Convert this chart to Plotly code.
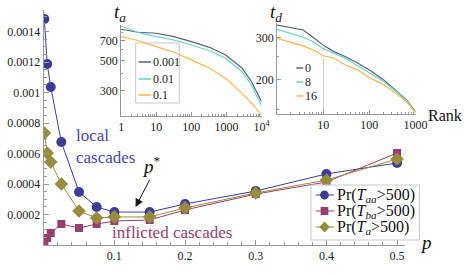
import plotly.graph_objects as go

W, H = 474, 274
def X(px): return px / W
def Y(py): return 1 - py / H

# ---- main chart data ----
p = [0.001, 0.005, 0.01, 0.025, 0.05, 0.075, 0.1, 0.15, 0.2, 0.3, 0.4, 0.5]
pr_taa = [0.001482, 0.001187, 0.001036, 0.000675, 0.000348, 0.000249, 0.000216, 0.000216, 0.000269, 0.000354, 0.000466, 0.000538]
pr_tba = [0.0000131, 0.0000459, 0.0000787, 0.000138, 0.000111, 0.000138, 0.000157, 0.000164, 0.000230, 0.000334, 0.000413, 0.000603]
pr_ta = [0.000734, 0.000603, 0.000544, 0.000400, 0.000223, 0.000177, 0.000184, 0.000184, 0.000243, 0.000341, 0.000426, 0.000564]
series_names = ["Pr(<i>T</i><sub><i>aa</i></sub>&gt;500)",
                "Pr(<i>T</i><sub><i>ba</i></sub>&gt;500)",
                "Pr(<i>T</i><sub><i>a</i></sub>&gt;500)"]
main_xticks = [0.1, 0.2, 0.3, 0.4, 0.5]
main_yticks = [0.0002, 0.0004, 0.0006, 0.0008, 0.001, 0.0012, 0.0014]
main_yticktext = ["0.0002", "0.0004", "0.0006", "0.0008", "0.001", "0.0012", "0.0014"]

# ---- inset t_a data ----
rank_a = [1, 3, 10, 32, 100, 330, 950, 2800, 5200, 10000]
ta_0001 = [845, 804, 790, 746, 686, 624, 549, 439, 350, 250]
ta_001 = [893, 800, 746, 706, 649, 589, 519, 414, 331, 233]
ta_01 = [746, 700, 631, 574, 505, 439, 371, 288, 244, 200]
inset_a_labels = ["0.001", "0.01", "0.1"]

# ---- inset t_d data ----
rank_d = [1, 3.7, 6, 10.5, 17, 30, 57, 108, 205, 390, 640, 1000]
td_0 = [340, 324, 302, 278, 263, 251, 235, 218, 200, 179, 165, 147]
td_8 = [326, 302, 290, 269, 259, 247, 229, 213, 197, 178, 164, 146]
td_16 = [299, 278, 267, 252, 247, 231, 220, 203, 191, 175, 162, 145]
inset_d_labels = ["0", "8", "16"]

BLUE = "rgb(61,61,153)"
MAG = "rgb(153,61,113)"
OLIVE = "rgb(153,139,61)"
GRAY = "#5d6274"
CYAN = "#66d4cc"
ORANGE = "#ffb44e"
AX = "#999999"
SERIF = "Liberation Serif"

fig = go.Figure()
main_specs = [(pr_taa, BLUE, "circle", 10), (pr_tba, MAG, "square", 8), (pr_ta, OLIVE, "diamond", 10.5)]
for (ys, c, sym, sz), nm in zip(main_specs, series_names):
    fig.add_trace(go.Scatter(x=p, y=ys, mode="lines+markers", name=nm,
                             line=dict(color=c, width=1),
                             marker=dict(symbol=sym, size=sz, color=c), showlegend=False))

for ys, c in zip([ta_0001, ta_001, ta_01], [GRAY, CYAN, ORANGE]):
    fig.add_trace(go.Scatter(x=rank_a, y=ys, mode="lines", line=dict(color=c, width=1.2),
                             xaxis="x2", yaxis="y2", showlegend=False))
for ys, c in zip([td_0, td_8, td_16], [GRAY, CYAN, ORANGE]):
    fig.add_trace(go.Scatter(x=rank_d, y=ys, mode="lines", line=dict(color=c, width=1.2),
                             xaxis="x3", yaxis="y3", showlegend=False))

tickfont = dict(family=SERIF, size=12, color="#222")
common = dict(showline=True, linecolor=AX, linewidth=1, ticks="inside", tickcolor=AX,
              showgrid=False, zeroline=False, tickfont=tickfont)

fig.update_layout(
    width=W, height=H, margin=dict(l=0, r=0, t=0, b=0),
    paper_bgcolor="white", plot_bgcolor="rgba(0,0,0,0)", showlegend=False,
    xaxis=dict(domain=[X(42), X(415)], range=[0, 0.511], tickvals=main_xticks,
               ticklen=5, anchor="y",
               minor=dict(ticks="inside", dtick=0.02, tick0=0, ticklen=3, tickcolor=AX), **common),
    yaxis=dict(domain=[Y(245), Y(10)], range=[0, 0.001541], tickvals=main_yticks,
               ticktext=main_yticktext, ticklen=5, anchor="x",
               minor=dict(ticks="inside", dtick=0.00005, tick0=0, ticklen=3, tickcolor=AX), **common),
    xaxis2=dict(domain=[X(122), X(267)], type="log", range=[0, 4], anchor="y2",
                tickvals=[1, 10, 100, 1000, 10000], ticktext=["1", "10", "100", "1000", "10<sup>4</sup>"],
                ticklen=4, minor=dict(ticks="inside", ticklen=2, tickcolor=AX,
                                      tickvals=[k * 10 ** e for e in range(4) for k in range(2, 10)]),
                **common),
    yaxis2=dict(domain=[Y(116), Y(25)], type="log", range=[2.294, 2.958], anchor="x2",
                tickvals=[300, 500, 700], ticklen=4,
                minor=dict(ticks="inside", ticklen=2, tickcolor=AX, tickvals=[200, 400, 600, 800, 900]),
                **common),
    xaxis3=dict(domain=[X(283), X(426)], type="log", range=[0, 3], anchor="y3",
                tickvals=[10, 100, 1000], ticklen=4,
                minor=dict(ticks="inside", ticklen=2, tickcolor=AX,
                           tickvals=[k * 10 ** e for e in range(3) for k in range(2, 10)]),
                **common),
    yaxis3=dict(domain=[Y(114), Y(23)], type="log", range=[2.158, 2.540], anchor="x3",
                tickvals=[200, 300], ticklen=4,
                minor=dict(ticks="inside", ticklen=2, tickcolor=AX, tickvals=[150, 250]),
                **common),
)

ann = []
def pa(px, py, text, size, color="#111", xanchor="center", **kw):
    ann.append(dict(x=X(px), y=Y(py), xref="paper", yref="paper", text=text, showarrow=False,
                    xanchor=xanchor, yanchor="middle", font=dict(family=SERIF, size=size, color=color), **kw))

# axis labels
pa(437, 242, "<i>p</i>", 19)
pa(121, 13, "<i>t<sub>a</sub></i>", 19)
pa(282, 13, "<i>t<sub>d</sub></i>", 19)
pa(456, 115, "Rank", 16)
# text labels in main plot
ann.append(dict(x=0.0425, y=0.000646, xref="x", yref="y", text="local<br>cascades", showarrow=False,
                xanchor="left", yanchor="middle", align="left",
                font=dict(family=SERIF, size=17, color="rgb(70,70,175)")))
ann.append(dict(x=0.181, y=0.0000852, xref="x", yref="y", text="inflicted cascades", showarrow=False,
                xanchor="center", yanchor="middle", font=dict(family=SERIF, size=17, color=MAG)))
ann.append(dict(x=0.152, y=0.000525, xref="x", yref="y", text="<i>p</i><sup>*</sup>", showarrow=False,
                xanchor="center", yanchor="middle", font=dict(family=SERIF, size=19, color="#111")))
ann.append(dict(x=0.130, y=0.000249, xref="x", yref="y", text="", showarrow=True, ax=15, ay=-29,
                arrowhead=2, arrowsize=1.6, arrowwidth=1, arrowcolor="#111"))

shapes = []
def line(x0, y0, x1, y1, color, width=1.5):
    shapes.append(dict(type="line", xref="paper", yref="paper", x0=X(x0), x1=X(x1), y0=Y(y0), y1=Y(y1),
                       line=dict(color=color, width=width)))

# main legend (drawn by hand to match the compact box)
shapes.append(dict(type="rect", xref="paper", yref="paper", x0=X(318), x1=X(430), y0=Y(240), y1=Y(185),
                   line=dict(color="#c8c8c8", width=1), fillcolor="white"))
for (ys, c, sym, sz), nm, py in zip(main_specs, series_names, [195, 211, 227]):
    line(323, py, 342, py, c, 1)
    cx = 332
    if sym == "circle":
        shapes.append(dict(type="circle", xref="paper", yref="paper", x0=X(cx - 4.5), x1=X(cx + 4.5),
                           y0=Y(py + 4.5), y1=Y(py - 4.5), fillcolor=c, line=dict(width=0)))
    elif sym == "square":
        shapes.append(dict(type="rect", xref="paper", yref="paper", x0=X(cx - 4), x1=X(cx + 4),
                           y0=Y(py + 4), y1=Y(py - 4), fillcolor=c, line=dict(width=0)))
    else:
        d = 5.5
        path = "M {} {} L {} {} L {} {} L {} {} Z".format(X(cx - d), Y(py), X(cx), Y(py - d),
                                                          X(cx + d), Y(py), X(cx), Y(py + d))
        shapes.append(dict(type="path", xref="paper", yref="paper", path=path, fillcolor=c,
                           line=dict(width=0)))
    pa(343, py, nm, 16, xanchor="left")

# inset legends
shapes.append(dict(type="rect", xref="paper", yref="paper", x0=X(137), x1=X(182), y0=Y(103), y1=Y(43),
                   line=dict(color="#c8c8c8", width=1), fillcolor="white", layer="below"))
for lbl, c, py in zip(inset_a_labels, [GRAY, CYAN, ORANGE], [62, 79, 95]):
    line(140, py, 153, py, c)
    pa(153, py, lbl, 12, color="#222", xanchor="left")
line(331, 110, 331, 58, "#d0d0d0", 1)
for lbl, c, py in zip(inset_d_labels, [GRAY, CYAN, ORANGE], [68, 82, 96]):
    line(303, py, 310, py, c)
    pa(310, py, lbl, 12, color="#222", xanchor="left")

fig.update_layout(annotations=ann, shapes=shapes)
fig.write_html("out.html", config={"displayModeBar": False},
               post_script="document.body.style.margin='0';")
